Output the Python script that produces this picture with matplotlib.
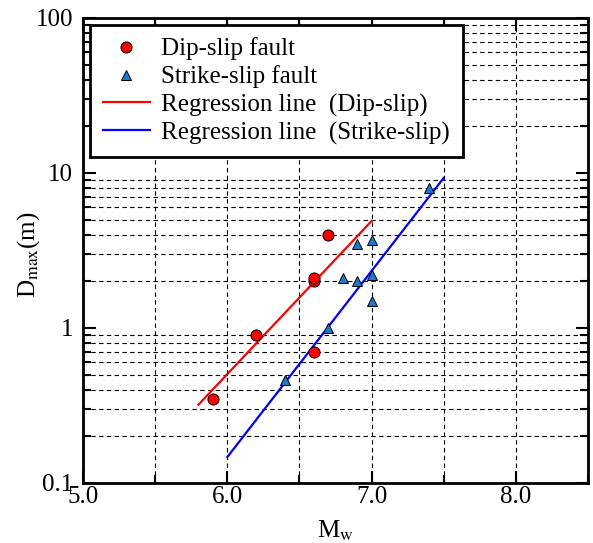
import numpy as np
import matplotlib
matplotlib.use("Agg")
import matplotlib.pyplot as plt
from matplotlib.ticker import MultipleLocator, LogLocator, NullFormatter, FixedLocator

plt.rcParams['font.family'] = ['Liberation Serif', 'DejaVu Serif']
plt.rcParams['mathtext.fontset'] = 'stix'

# data
dip_mw = [5.9, 6.2, 6.6, 6.6, 6.6, 6.7]
dip_d = [0.35, 0.9, 2.0, 2.1, 0.7, 4.0]
strike_mw = [6.4, 6.7, 6.8, 6.9, 6.9, 7.0, 7.0, 7.0, 7.4]
strike_d = [0.46, 1.0, 2.1, 2.0, 3.5, 2.2, 1.5, 3.7, 8.0]

# regression line end points
dip_line_mw = [5.8, 7.0]
dip_line_d = [0.32, 4.9]
strike_line_mw = [6.0, 7.5]
strike_line_d = [0.147, 9.3]

fig = plt.figure(figsize=(5.93, 5.43), dpi=100)
ax = fig.add_axes([0.14, 0.1105, 0.8516, 0.8564])

ax.set_yscale('log')
ax.set_xlim(5.0, 8.5)
ax.set_ylim(0.1, 100)

# grid: every 0.5 in x, minor decades only in y
for xv in np.arange(5.5, 8.5, 0.5):
    ax.axvline(xv, color='k', lw=0.8, dashes=(4, 3), zorder=0)
ax.yaxis.set_minor_locator(LogLocator(base=10, subs=np.arange(2, 10)))
ax.yaxis.set_minor_formatter(NullFormatter())
ax.grid(True, which='minor', axis='y', color='k', lw=0.8, linestyle=(0, (4, 3)), zorder=0)

ax.plot(dip_line_mw, dip_line_d, color='#ff0000', lw=1.6, zorder=2, label='Regression line  (Dip-slip)')
ax.plot(strike_line_mw, strike_line_d, color='#0000ff', lw=1.6, zorder=2, label='Regression line  (Strike-slip)')
ax.plot(dip_mw, dip_d, 'o', ms=8, mfc='#ff0000', mec='k', mew=0.7, zorder=3, label='Dip-slip fault')
ax.plot(strike_mw, strike_d, '^', ms=7.5, mfc='#1e78d2', mec='k', mew=0.7, zorder=3, label='Strike-slip fault')

ax.xaxis.set_major_locator(FixedLocator([5.0, 6.0, 7.0, 8.0]))
ax.xaxis.set_minor_locator(MultipleLocator(0.5))
ax.set_xticklabels(['5.0', '6.0', '7.0', '8.0'])
ax.set_yticks([0.1, 1, 10, 100])
ax.set_yticklabels(['0.1', '1', '10', '100'])

ax.tick_params(which='both', direction='in', top=True, right=True, labelsize=18, width=1.5)
ax.tick_params(which='major', length=9)
ax.tick_params(which='minor', length=6)
ax.tick_params(axis='x', pad=2)
ax.tick_params(axis='y', pad=7)
for sp in ax.spines.values():
    sp.set_linewidth(2)

ax.set_xlabel(r'M$_{\rm w}$', fontsize=18)
ax.set_ylabel(r'D$_{\rm max}$(m)', fontsize=18)
ax.xaxis.set_label_coords(0.5, -0.077)
ax.yaxis.set_label_coords(-0.082, 0.49)

handles, labels = ax.get_legend_handles_labels()
order = [2, 3, 0, 1]
leg = ax.legend([handles[i] for i in order], [labels[i] for i in order],
                loc='upper left', bbox_to_anchor=(0.014, 0.985), fontsize=18,
                numpoints=1, fancybox=False, framealpha=1, edgecolor='k',
                handlelength=1.9, handletextpad=0.45, labelspacing=0.2,
                borderpad=0.5, borderaxespad=0)
leg.get_frame().set_linewidth(2)
leg.set_zorder(5)

fig.savefig('out.png', dpi=100)
